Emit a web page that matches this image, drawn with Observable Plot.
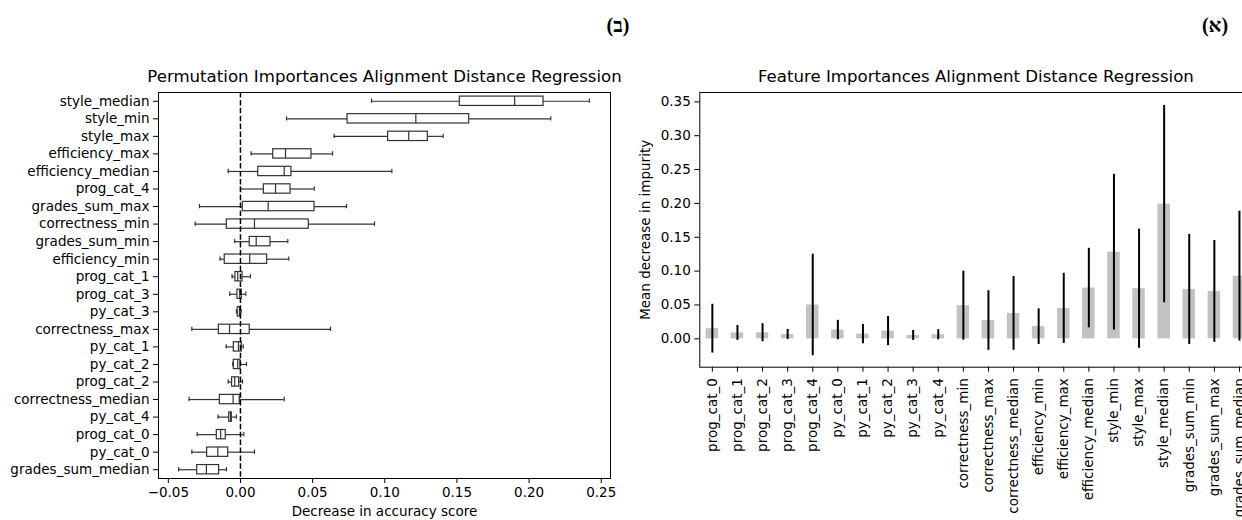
<!DOCTYPE html>
<html>
<head>
<meta charset="utf-8">
<script src="https://cdn.jsdelivr.net/npm/d3@7"></script>
<script src="https://cdn.jsdelivr.net/npm/@observablehq/plot@0.6"></script>
<style>
  html, body { margin: 0; padding: 0; background: #fff; }
  #wrap { position: relative; width: 1242px; height: 520px; overflow: hidden; background: #fff; }
  #left { position: absolute; left: 0; top: 0; width: 640px; height: 520px; }
  #right { position: absolute; left: 620px; top: 0; width: 640px; height: 520px; }
  #wrap svg { max-width: none !important; display: block; }
  .tag { position: absolute; font-family: "Liberation Serif", "DejaVu Serif", "DejaVu Sans", serif; font-weight: bold; font-size: 20px; line-height: 1; transform: translate(-50%, -50%); white-space: nowrap; }
</style>
</head>
<body>
<div id="wrap">
  <div id="left"></div>
  <div id="right"></div>
  <div class="tag" dir="ltr" style="left:618px; top:25px;">(ב)</div>
  <div class="tag" dir="ltr" style="left:1215px; top:25px;">(א)</div>
</div>
<script>
// ---- Left panel: permutation importances (box plot statistics), top to bottom ----
const permFeatures = ["style_median","style_min","style_max","efficiency_max","efficiency_median","prog_cat_4","grades_sum_max","correctness_min","grades_sum_min","efficiency_min","prog_cat_1","prog_cat_3","py_cat_3","correctness_max","py_cat_1","py_cat_2","prog_cat_2","correctness_median","py_cat_4","prog_cat_0","py_cat_0","grades_sum_median"];
const permWhiskerLow  = [0.0908, 0.0319, 0.0649, 0.0074, -0.0085, 0.0000, -0.0284, -0.0314, -0.0040, -0.0141, -0.0058, -0.0074, -0.0028, -0.0337, -0.0099, -0.0053, -0.0085, -0.0356, -0.0155, -0.0300, -0.0337, -0.0428];
const permQ1          = [0.1520, 0.0742, 0.1023, 0.0227, 0.0123, 0.0162, 0.0016, -0.0095, 0.0064, -0.0109, -0.0035, -0.0021, -0.0019, -0.0150, -0.0046, -0.0046, -0.0058, -0.0143, -0.0078, -0.0164, -0.0231, -0.0300];
const permMedian      = [0.1900, 0.1215, 0.1166, 0.0312, 0.0303, 0.0243, 0.0192, 0.0097, 0.0109, 0.0064, -0.0019, -0.0005, -0.0007, -0.0076, -0.0014, -0.0019, -0.0040, -0.0051, -0.0069, -0.0137, -0.0157, -0.0236];
const permQ3          = [0.2100, 0.1585, 0.1298, 0.0492, 0.0353, 0.0347, 0.0513, 0.0473, 0.0208, 0.0185, 0.0014, 0.0009, 0.0000, 0.0064, 0.0009, 0.0000, -0.0009, -0.0005, -0.0060, -0.0102, -0.0085, -0.0148];
const permWhiskerHigh = [0.2417, 0.2150, 0.1405, 0.0638, 0.1049, 0.0511, 0.0735, 0.0929, 0.0328, 0.0335, 0.0069, 0.0037, 0.0005, 0.0624, 0.0019, 0.0042, 0.0014, 0.0303, -0.0028, 0.0023, 0.0097, -0.0097];
const permXTicks = [-0.05, 0.00, 0.05, 0.10, 0.15, 0.20, 0.25];

// ---- Right panel: impurity-based feature importances ----
const impFeatures = ["prog_cat_0","prog_cat_1","prog_cat_2","prog_cat_3","prog_cat_4","py_cat_0","py_cat_1","py_cat_2","py_cat_3","py_cat_4","correctness_min","correctness_max","correctness_median","efficiency_min","efficiency_max","efficiency_median","style_min","style_max","style_median","grades_sum_min","grades_sum_max","grades_sum_median"];
const impMean = [0.0150, 0.0087, 0.0090, 0.0064, 0.0500, 0.0130, 0.0070, 0.0115, 0.0050, 0.0060, 0.0490, 0.0270, 0.0375, 0.0180, 0.0450, 0.0750, 0.1280, 0.0740, 0.1990, 0.0730, 0.0700, 0.0925];
const impStd  = [0.0360, 0.0110, 0.0133, 0.0075, 0.0750, 0.0144, 0.0143, 0.0215, 0.0074, 0.0075, 0.0510, 0.0440, 0.0544, 0.0263, 0.0518, 0.0587, 0.1150, 0.0880, 0.1457, 0.0813, 0.0752, 0.0959];
const impYTicks = [0.00, 0.05, 0.10, 0.15, 0.20, 0.25, 0.30, 0.35];

const fmt = d => d.toFixed(2).replace("-", "\u2212");
const FONT = "DejaVu Sans, Liberation Sans, sans-serif";
const boxStroke = "#333";

const perm = permFeatures.map((f, i) => ({
  f, lo: permWhiskerLow[i], q1: permQ1[i], med: permMedian[i], q3: permQ3[i], hi: permWhiskerHigh[i]
}));

const left = Plot.plot({
  width: 640, height: 520,
  marginLeft: 158, marginRight: 30, marginTop: 92, marginBottom: 42,
  style: { fontFamily: FONT, fontSize: "13.5px", color: "#000", background: "#fff", maxWidth: "none" },
  x: { domain: [-0.0568, 0.2564], ticks: permXTicks, tickFormat: fmt, label: null },
  y: { type: "band", domain: permFeatures, padding: 0, round: false, label: null },
  marks: [
    Plot.ruleY(perm, { y: "f", x1: "lo", x2: "q1", stroke: boxStroke, strokeWidth: 1.2 }),
    Plot.ruleY(perm, { y: "f", x1: "q3", x2: "hi", stroke: boxStroke, strokeWidth: 1.2 }),
    Plot.tickX(perm, { x: "lo", y: "f", stroke: boxStroke, strokeWidth: 1.2, insetTop: 6.6, insetBottom: 6.6 }),
    Plot.tickX(perm, { x: "hi", y: "f", stroke: boxStroke, strokeWidth: 1.2, insetTop: 6.6, insetBottom: 6.6 }),
    Plot.barX(perm, { y: "f", x1: "q1", x2: "q3", fill: "none", stroke: boxStroke, strokeWidth: 1.2, insetTop: 4.1, insetBottom: 4.1 }),
    Plot.tickX(perm, { x: "med", y: "f", stroke: boxStroke, strokeWidth: 1.2, insetTop: 4.1, insetBottom: 4.1 }),
    Plot.ruleX([0], { stroke: "#000", strokeWidth: 1.5, strokeDasharray: "5.5,2.4" }),
    Plot.frame({ stroke: "#000", strokeWidth: 1 }),
    Plot.axisX({ ticks: permXTicks, tickFormat: fmt, tickSize: 5, tickPadding: 4, label: null }),
    Plot.axisY({ tickSize: 5, tickPadding: 4, label: null }),
    Plot.text(["Permutation Importances Alignment Distance Regression"], { text: d => d, frameAnchor: "top", dy: -16, fontSize: 16.6, lineAnchor: "middle" }),
    Plot.text(["Decrease in accuracy score"], { text: d => d, frameAnchor: "bottom", dy: 33, fontSize: 13.5, lineAnchor: "middle" })
  ]
});
document.getElementById("left").appendChild(left);

const imp = impFeatures.map((f, i) => ({ f, m: impMean[i], lo: impMean[i] - impStd[i], hi: impMean[i] + impStd[i] }));

const right = Plot.plot({
  width: 640, height: 520,
  marginLeft: 79.3, marginRight: 8.5, marginTop: 92, marginBottom: 153.3,
  style: { fontFamily: FONT, fontSize: "13.5px", color: "#000", background: "transparent", maxWidth: "none" },
  x: { type: "band", domain: impFeatures, padding: 0, round: false, label: null },
  y: { domain: [-0.0419, 0.3638], ticks: impYTicks, tickFormat: fmt, label: null },
  marks: [
    Plot.barY(imp, { x: "f", y1: 0, y2: "m", fill: "#c2c2c2", insetLeft: 6.3, insetRight: 6.3 }),
    Plot.ruleX(imp, { x: "f", y1: "lo", y2: "hi", stroke: "#000", strokeWidth: 2 }),
    Plot.frame({ stroke: "#000", strokeWidth: 1 }),
    Plot.axisX({ tickRotate: -90, tickSize: 5, tickPadding: 6, label: null }),
    Plot.axisY({ ticks: impYTicks, tickFormat: fmt, tickSize: 5, tickPadding: 4, label: null }),
    Plot.text(["Feature Importances Alignment Distance Regression"], { text: d => d, frameAnchor: "top", dy: -16, fontSize: 16.6, lineAnchor: "middle" }),
    Plot.text(["Mean decrease in impurity"], { text: d => d, frameAnchor: "left", dx: -54.3, rotate: -90, fontSize: 13.5, textAnchor: "middle", lineAnchor: "middle" })
  ]
});
document.getElementById("right").appendChild(right);
</script>
</body>
</html>
